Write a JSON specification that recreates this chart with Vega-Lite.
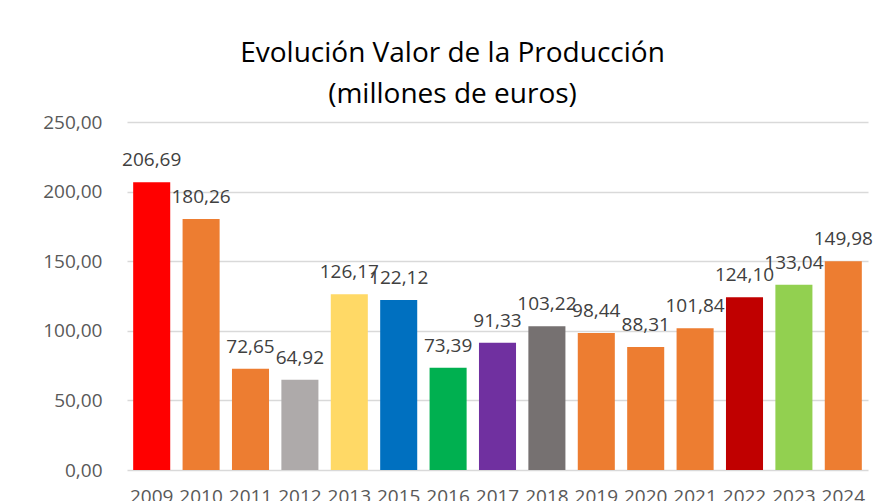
{
  "$schema": "https://vega.github.io/schema/vega-lite/v6.json",
  "width": 741,
  "height": 348,
  "autosize": {"type": "none"},
  "padding": {"left": 127, "top": 122, "right": 15, "bottom": 31},
  "background": "white",
  "config": {
    "locale": {"number": {"decimal": ",", "thousands": ".", "grouping": [3], "currency": ["", " €"]}},
    "view": {"stroke": null},
    "font": "Open Sans"
  },
  "title": {
    "text": ["Evolución Valor de la Producción", "(millones de euros)"],
    "fontSize": 28,
    "fontWeight": "normal",
    "font": "Open Sans",
    "color": "#000000",
    "lineHeight": 41,
    "anchor": "middle",
    "baseline": "alphabetic",
    "dx": -45,
    "dy": 37,
    "offset": 19
  },
  "data": {
    "values": [
      {"year": "2009", "value": 206.69, "color": "#FF0000"},
      {"year": "2010", "value": 180.26, "color": "#ED7D31"},
      {"year": "2011", "value": 72.65, "color": "#ED7D31"},
      {"year": "2012", "value": 64.92, "color": "#AEAAAA"},
      {"year": "2013", "value": 126.17, "color": "#FFD966"},
      {"year": "2015", "value": 122.12, "color": "#0070C0"},
      {"year": "2016", "value": 73.39, "color": "#00B050"},
      {"year": "2017", "value": 91.33, "color": "#7030A0"},
      {"year": "2018", "value": 103.22, "color": "#767171"},
      {"year": "2019", "value": 98.44, "color": "#ED7D31"},
      {"year": "2020", "value": 88.31, "color": "#ED7D31"},
      {"year": "2021", "value": 101.84, "color": "#ED7D31"},
      {"year": "2022", "value": 124.10, "color": "#C00000"},
      {"year": "2023", "value": 133.04, "color": "#92D050"},
      {"year": "2024", "value": 149.98, "color": "#ED7D31"}
    ]
  },
  "encoding": {
    "x": {
      "field": "year",
      "type": "nominal",
      "sort": null,
      "scale": {"paddingInner": 0.25, "paddingOuter": 0.125},
      "axis": {
        "title": null,
        "labelAngle": 0,
        "labelFontSize": 19,
        "labelColor": "#595959",
        "labelPadding": 17,
        "ticks": false,
        "domain": false
      }
    },
    "y": {
      "field": "value",
      "type": "quantitative",
      "scale": {"domain": [0, 250]},
      "axis": {
        "title": null,
        "values": [0, 50, 100, 150, 200, 250],
        "format": ".2f",
        "labelFontSize": 19,
        "labelColor": "#595959",
        "labelPadding": 25,
        "ticks": false,
        "domain": false,
        "gridColor": "#D9D9D9",
        "gridWidth": 1.5
      }
    }
  },
  "layer": [
    {
      "mark": {"type": "bar"},
      "encoding": {
        "color": {"field": "color", "type": "nominal", "scale": null}
      }
    },
    {
      "mark": {"type": "text", "baseline": "alphabetic", "dy": -16, "fontSize": 19, "color": "#404040"},
      "encoding": {
        "text": {"field": "value", "type": "quantitative", "format": ".2f"}
      }
    }
  ]
}
